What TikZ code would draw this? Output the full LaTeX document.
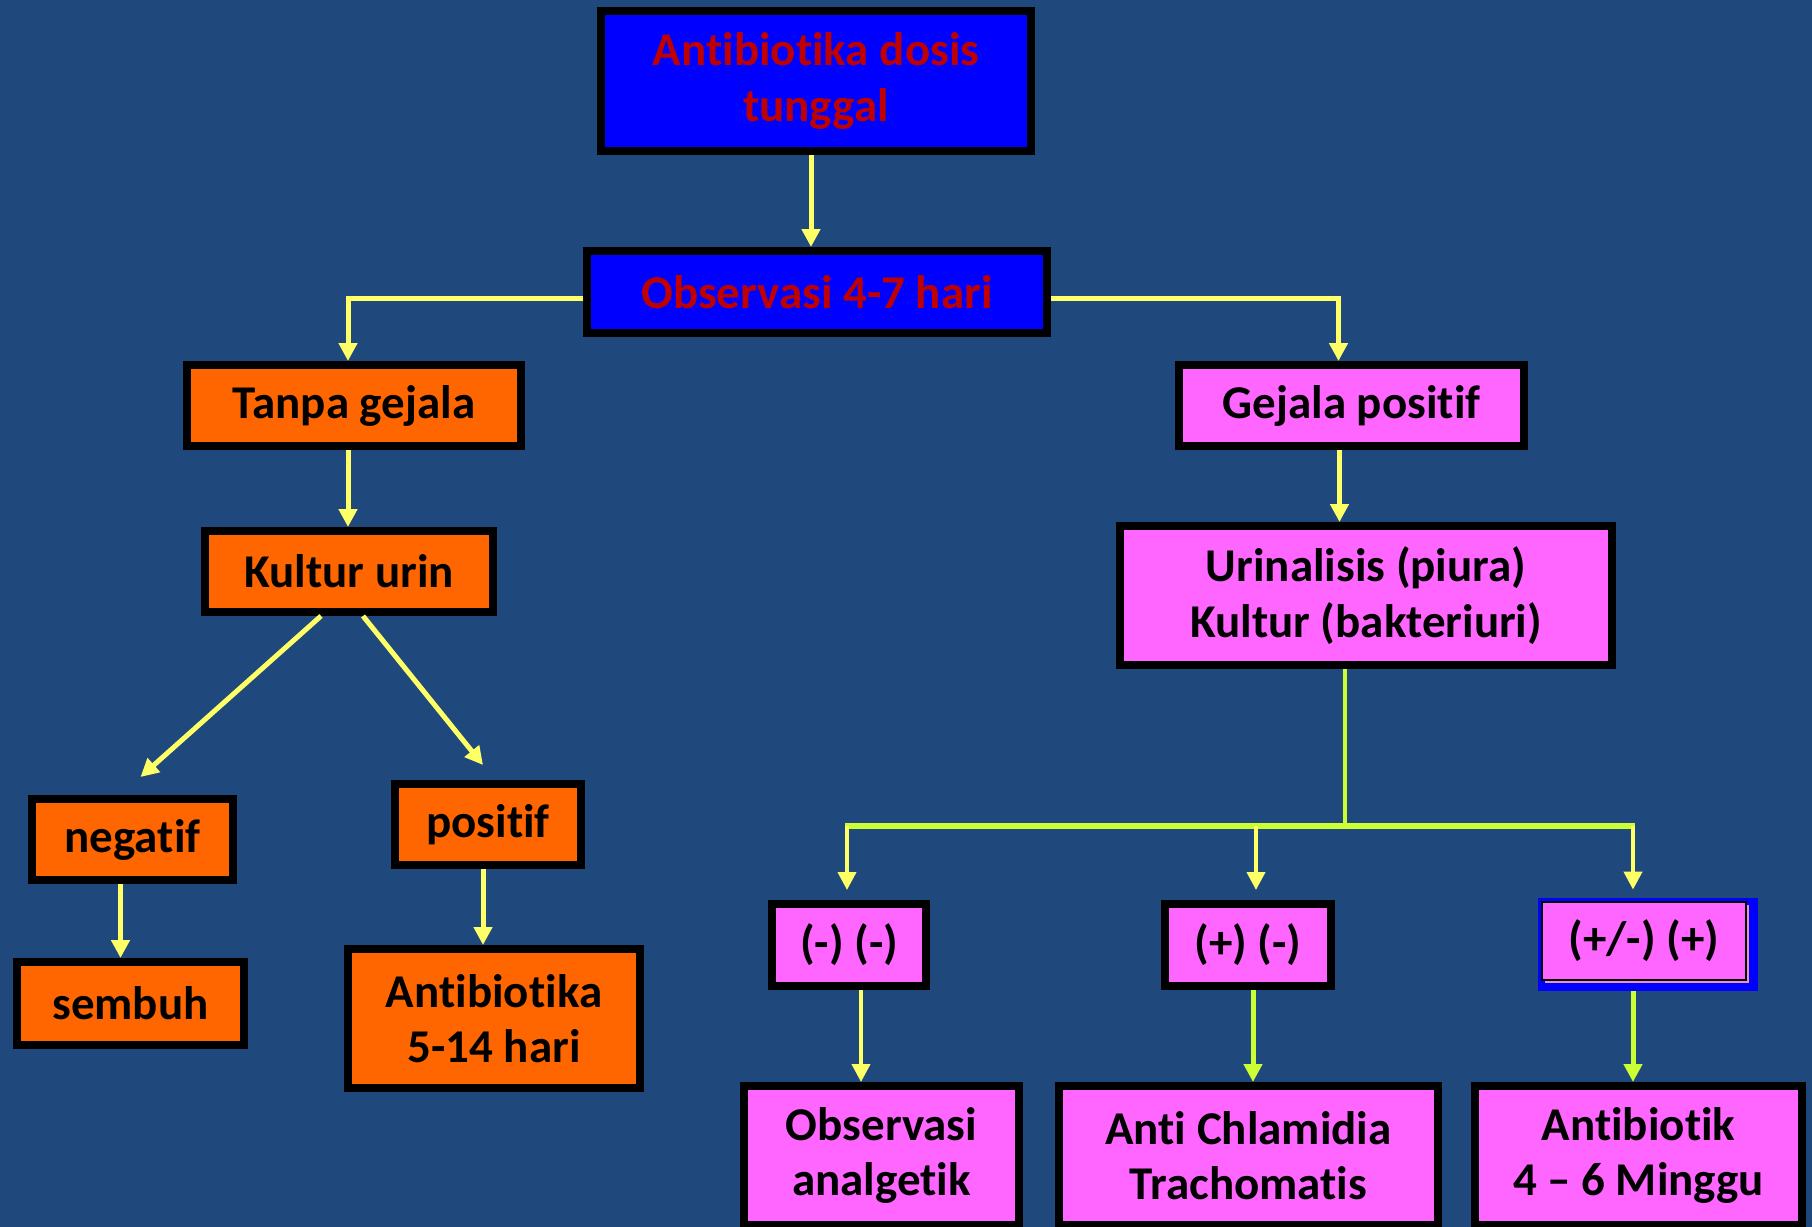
\documentclass[tikz,border=0pt]{standalone}
\usepackage{fontspec}
\setmainfont{Carlito}[RawFeature={-liga;-clig;-calt;-dlig;-rlig}]
\usetikzlibrary{arrows.meta}

\definecolor{bgblue}{HTML}{1F497D}
\definecolor{boxblue}{HTML}{0000FF}
\definecolor{darkred}{HTML}{C00000}
\definecolor{boxorange}{HTML}{FF6600}
\definecolor{boxpink}{HTML}{FF66FF}
\definecolor{shadowpink}{HTML}{F090D0}
\definecolor{arrowyellow}{HTML}{FFFF66}
\definecolor{linegreen}{HTML}{CCFF33}

\begin{document}
\begin{tikzpicture}[x=0.5pt,y=-0.5pt,
    box/.style={draw=black, line width=4pt, inner sep=0pt, align=center,
      font=\fontsize{23.5}{27.7}\selectfont\bfseries},
    bluebox/.style={box, fill=boxblue, text=darkred},
    orangebox/.style={box, fill=boxorange},
    pinkbox/.style={box, fill=boxpink},
    arr/.style={draw=arrowyellow, line width=2.5pt, -{Triangle[length=9pt,width=9pt]}},
    greenarr/.style={arr, draw=linegreen},
    link/.style={draw=arrowyellow, line width=2.5pt}]

    % Background
    \fill[bgblue] (0,0) rectangle (1812,1227);
    \useasboundingbox (0,0) rectangle (1812,1227);

    % Top of the chart
    \node[bluebox, minimum width=215pt, minimum height=70pt] (dosis) at (816,81)
        {Antibiotika dosis\\tunggal};
    \node[bluebox, minimum width=230pt, minimum height=41pt] (obs) at (817,292)
        {Observasi 4-7 hari};

    % Left branch
    \node[orangebox, minimum width=167pt, minimum height=40.5pt] (tanpa) at (354,405.5) {Tanpa gejala};
    \node[orangebox, minimum width=144pt, minimum height=40.5pt] (kultur) at (349,571.5) {Kultur urin};
    \node[orangebox, minimum width=100.5pt, minimum height=40.5pt] (neg) at (132.5,839.5) {negatif};
    \node[orangebox, minimum width=93pt, minimum height=40.5pt] (pos) at (488,824.5) {positif};
    \node[orangebox, minimum width=113.5pt, minimum height=41.5pt] (sembuh) at (130.5,1003.5) {sembuh};
    \node[orangebox, minimum width=146pt, minimum height=69.5pt] (ab514) at (494,1018.5) {Antibiotika\\5-14 hari};

    % Right branch
    \node[pinkbox, minimum width=172.5pt, minimum height=40.5pt] (gejala) at (1351.5,405.5) {Gejala positif};
    \node[pinkbox, minimum width=246pt, minimum height=69.5pt] (urin) at (1366,595.5)
        {Urinalisis (piura)\\Kultur (bakteriuri)};
    \node[pinkbox, minimum width=77pt, minimum height=41pt] (mm) at (849,945) {(-) (-)};
    \node[pinkbox, minimum width=83pt, minimum height=41pt] (pm) at (1248,945) {(+) (-)};
    \node[fill=boxblue, minimum width=110pt, minimum height=46.5pt, inner sep=0pt] (pmpframe) at (1648,944.5) {};
    \node[fill=shadowpink, minimum width=102pt, minimum height=39pt, inner sep=0pt] (pmpshadow) at (1647,944) {};
    \node[pinkbox, line width=0.8pt, minimum width=102pt, minimum height=39pt] (pmp) at (1644,941) {(+/-) (+)};

    % Bottom row
    \node[pinkbox, minimum width=137.5pt, minimum height=69.5pt] (analg) at (881.5,1155.5) {Observasi\\analgetik};
    \node[pinkbox, minimum width=189.5pt, minimum height=69.5pt] (chlam) at (1248.5,1155.5) {Anti Chlamidia\\Trachomatis};
    \node[pinkbox, minimum width=163.5pt, minimum height=69.5pt] (abmg) at (1638.5,1155.5) {Antibiotik\\4 – 6 Minggu};

    % Junction of the three results
    \coordinate (split) at (1345,826);
    \coordinate (jl) at (847,826);
    \coordinate (jm) at (1256,826);
    \coordinate (jr) at (1633,826);

    % Arrows
    \draw[arr] ([xshift=-2.5pt]dosis.south) -- ([xshift=-2.5pt]dosis.south |- obs.north);
    \draw[arr] ([yshift=-3pt]obs.west) -| ([xshift=-3pt]tanpa.north);
    \draw[arr] ([yshift=-3pt]obs.east) -| ([xshift=-6.5pt]gejala.north);
    \draw[arr] ([xshift=-3pt]tanpa.south) -- ([xshift=-3pt]tanpa.south |- kultur.north);
    \draw[arr] ([xshift=-14pt]kultur.south) -- ([xshift=4pt,yshift=9pt]neg.north);
    \draw[arr] ([xshift=7pt]kultur.south) -- ([xshift=-2.5pt,yshift=7.5pt]pos.north);
    \draw[arr] ([xshift=-6pt]neg.south) -- ([xshift=-6pt]neg.south |- sembuh.north);
    \draw[arr] ([xshift=-2.5pt]pos.south) -- ([xshift=-2.5pt]pos.south |- ab514.north);
    \draw[arr] ([xshift=-6pt]gejala.south) -- ([xshift=-6pt]gejala.south |- urin.north);

    \draw[draw=linegreen, line width=1.8pt] ([xshift=-10.5pt]urin.south) -- (split);
    \draw[draw=linegreen, line width=3pt] ([xshift=-1pt]jl) -- ([xshift=1pt]jr);
    \draw[arr, line width=2pt] (jl) -- ([yshift=5pt]jl |- mm.north);
    \draw[arr, line width=2pt] (jm) -- ([yshift=5pt]jm |- pm.north);
    \draw[arr, line width=2pt] (jr) -- ([yshift=4pt]jr |- pmpframe.north);

    \draw[arr, line width=2pt] ([xshift=6pt]mm.south) -- ([xshift=6pt]mm.south |- analg.north);
    \draw[greenarr] ([xshift=2.5pt]pm.south) -- ([xshift=2.5pt]pm.south |- chlam.north);
    \draw[greenarr] (jr |- pmpframe.south) -- (jr |- abmg.north);

\end{tikzpicture}
\end{document}
